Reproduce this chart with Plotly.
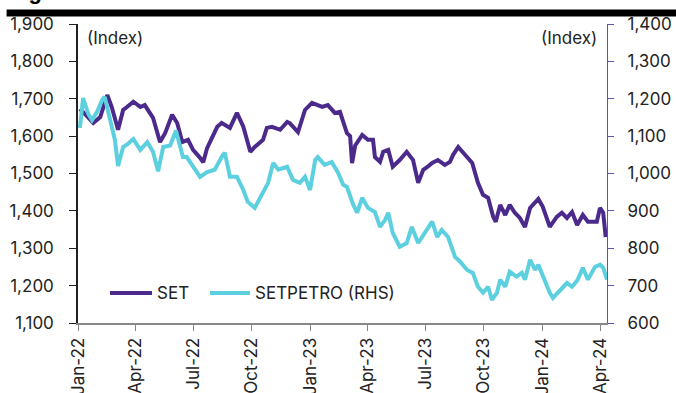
import datetime as dt
import plotly.graph_objects as go

START = dt.date(2022, 1, 1)

# SET index (LHS) - day offsets from 1 Jan 2022 and index level
set_days = [3, 8, 16, 24, 35, 46, 53, 63, 71, 77,
            87, 98, 105, 118, 129, 137, 148, 156, 164, 173,
            181, 192, 197, 203, 211, 219, 226, 239, 250, 260,
            271, 278, 291, 297, 305, 318, 329, 333, 346, 357,
            368, 384, 393, 404, 412, 418, 423, 428, 431, 436,
            447, 456, 464, 467, 475, 480, 488, 495, 506, 517,
            527, 535, 543, 550, 557, 566, 577, 585, 590, 598,
            606, 612, 620, 629, 637, 645, 653, 657, 664, 672,
            679, 687, 695, 703, 711, 724, 731, 742, 753, 761,
            769, 777, 785, 794, 802, 816, 821, 826, 830]
set_vals = [1673, 1665, 1650, 1635, 1651, 1710, 1678, 1617, 1670, 1678,
            1692, 1678, 1683, 1649, 1584, 1608, 1657, 1635, 1584, 1590,
            1563, 1542, 1530, 1568, 1598, 1625, 1635, 1622, 1662, 1625,
            1558, 1571, 1590, 1622, 1625, 1617, 1638, 1635, 1611, 1670,
            1689, 1678, 1683, 1662, 1665, 1635, 1608, 1600, 1528, 1575,
            1603, 1590, 1590, 1544, 1531, 1558, 1563, 1518, 1536, 1558,
            1536, 1475, 1510, 1518, 1528, 1536, 1523, 1531, 1550, 1571,
            1555, 1544, 1528, 1475, 1443, 1435, 1384, 1371, 1416, 1389,
            1416, 1395, 1381, 1357, 1408, 1432, 1411, 1357, 1384, 1395,
            1381, 1397, 1362, 1389, 1371, 1371, 1408, 1395, 1330]

# SETPETRO index (RHS)
petro_days = [3, 5, 8, 16, 22, 30, 38, 42, 50, 58,
              63, 71, 79, 87, 98, 109, 118, 126, 134, 145,
              154, 160, 165, 171, 181, 187, 192, 203, 215, 228,
              231, 239, 250, 260, 267, 278, 289, 299, 307, 315,
              329, 338, 349, 357, 365, 373, 377, 388, 399, 409,
              417, 423, 433, 439, 447, 456, 467, 475, 483, 488,
              495, 506, 517, 525, 535, 546, 557, 565, 572, 582,
              593, 601, 612, 621, 629, 637, 645, 651, 659, 664,
              672, 679, 690, 698, 703, 711, 719, 724, 731, 742,
              747, 758, 769, 777, 786, 794, 802, 813, 821, 826,
              832]
petro_vals = [1122, 1160, 1202, 1160, 1143, 1165, 1197, 1205, 1151, 1090,
              1020, 1071, 1080, 1092, 1063, 1084, 1058, 1006, 1071, 1075,
              1115, 1080, 1044, 1044, 1018, 1004, 991, 1004, 1010, 1050,
              1055, 991, 991, 956, 924, 908, 943, 975, 1028, 1010,
              1018, 983, 975, 991, 956, 1036, 1044, 1023, 1031, 1002,
              970, 964, 916, 895, 935, 908, 897, 857, 876, 895,
              841, 804, 814, 857, 814, 841, 871, 830, 849, 830,
              777, 764, 742, 734, 697, 681, 697, 662, 681, 716,
              697, 737, 724, 734, 716, 769, 742, 756, 724, 681,
              667, 689, 707, 697, 716, 748, 716, 750, 756, 748,
              716]

PURPLE = '#4b2a8c'
CYAN = '#5dd0e0'
FONT = 'Inter, Roboto, Arial, sans-serif'
FS = 17

set_dates = [START + dt.timedelta(days=d) for d in set_days]
petro_dates = [START + dt.timedelta(days=d) for d in petro_days]

fig = go.Figure()
fig.add_trace(go.Scatter(x=set_dates, y=set_vals, name='SET', mode='lines',
                         line=dict(color=PURPLE, width=4)))
fig.add_trace(go.Scatter(x=petro_dates, y=petro_vals, name='SETPETRO (RHS)', mode='lines',
                         line=dict(color=CYAN, width=4), yaxis='y2'))

fig.update_layout(
    width=676, height=393,
    margin=dict(l=78, r=69, t=24, b=70),
    plot_bgcolor='white', paper_bgcolor='white',
    font=dict(family=FONT, size=FS, color='#222'),
    showlegend=False,
    xaxis=dict(range=[START, START + dt.timedelta(days=832)],
               dtick='M3', tick0='2022-01-01', tickformat='%b-%y', tickangle=-90,
               ticks='outside', ticklen=6, tickcolor='#888',
               showline=True, linecolor='#888', linewidth=2,
               showgrid=False, zeroline=False, tickfont=dict(size=FS), automargin=False),
    yaxis=dict(range=[1100, 1900], dtick=100, tickformat=',',
               ticks='outside', ticklen=7, tickcolor='#222', ticklabelstandoff=12,
               showline=True, linecolor='#222', linewidth=1.5,
               showgrid=False, zeroline=False, tickfont=dict(size=FS), automargin=False),
    yaxis2=dict(range=[600, 1400], dtick=100, tickformat=',', overlaying='y', side='right',
                ticks='outside', ticklen=6, tickcolor='#6a4fb0', ticklabelstandoff=10,
                showline=True, linecolor='#6a4fb0', linewidth=1.2,
                showgrid=False, zeroline=False, tickfont=dict(size=FS), automargin=False),
)

# legend drawn by hand so the line keys are as long as in the original
legend_y = 0.1
for name, color, x0, x1 in [('SET', PURPLE, 0.0605, 0.1399),
                            ('SETPETRO (RHS)', CYAN, 0.2495, 0.3251)]:
    fig.add_shape(type='line', xref='paper', yref='paper', x0=x0, x1=x1, y0=legend_y, y1=legend_y,
                  line=dict(color=color, width=4))
    fig.add_annotation(text=name, xref='paper', yref='paper', x=x1 + 0.005, y=legend_y,
                       xanchor='left', yanchor='middle', showarrow=False,
                       font=dict(size=FS, color='#222'))

# (Index) labels
fig.add_annotation(text='(Index)', xref='paper', yref='paper', x=0.013, y=0.953,
                   xanchor='left', yanchor='middle', showarrow=False, font=dict(size=FS, color='#222'))
fig.add_annotation(text='(Index)', xref='paper', yref='paper', x=0.985, y=0.953,
                   xanchor='right', yanchor='middle', showarrow=False, font=dict(size=FS, color='#222'))

# cropped figure title and rule above the chart
fig.add_annotation(text='<b>Figure 16: SET vs SETPETRO</b>', xref='paper', yref='paper',
                   x=-0.135, y=1.061, xanchor='left', yanchor='bottom', showarrow=False,
                   font=dict(size=22, color='black', family='Arial, sans-serif'))
fig.add_shape(type='rect', xref='paper', yref='paper', x0=-0.135, x1=1.2, y0=1.025, y1=1.0485,
              fillcolor='black', line=dict(width=0))

fig.write_html("out.html", config={'displayModeBar': False},
               post_script="document.body.style.margin='0';")
